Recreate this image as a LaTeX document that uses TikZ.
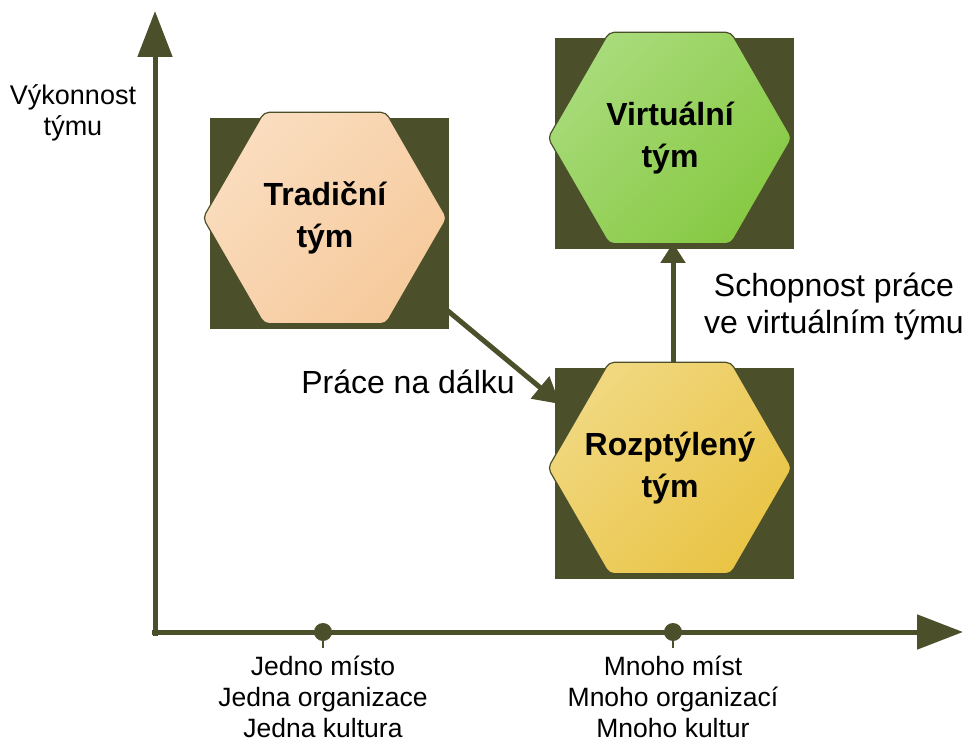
\documentclass[tikz,border=0pt]{standalone}
\usepackage{fontspec}
\setmainfont{Liberation Sans}
\usetikzlibrary{shapes.geometric,arrows.meta,calc}
\definecolor{darkol}{HTML}{4B4F2A}
\definecolor{tradA}{HTML}{FADDBF}
\definecolor{tradB}{HTML}{F6CA9C}
\definecolor{virtA}{HTML}{A8DB7A}
\definecolor{virtB}{HTML}{87C943}
\definecolor{rozA}{HTML}{F1D880}
\definecolor{rozB}{HTML}{E9C445}
\begin{document}
\begin{tikzpicture}[x=1pt,y=-1pt,
  hexa/.style={regular polygon, regular polygon sides=6, minimum size=244pt,
    inner sep=0pt, draw=darkol, line width=1.2pt, rounded corners=5pt},
  hexlabel/.style={font=\fontsize{32}{42}\selectfont\bfseries, align=center, inner sep=0pt},
  backrect/.style={fill=darkol},
  axisarrow/.style={draw=darkol, line width=5pt, -{Triangle[length=46pt,width=34pt]}},
  conn/.style={draw=darkol, line width=5pt, -{Triangle[length=26pt,width=28pt]}},
  vconn/.style={draw=darkol, line width=5pt, -{Triangle[length=20pt,width=24pt]}},
  dotn/.style={circle, fill=darkol, minimum size=18pt, inner sep=0pt},
  lab/.style={align=center, inner sep=0pt},
  bigfont/.style={font=\fontsize{32}{37}\selectfont},
  midfont/.style={font=\fontsize{26.5}{31}\selectfont}]
\useasboundingbox (0,0) rectangle (964,743);

% centres
\coordinate (ct) at (325,218);
\coordinate (cv) at (670,138);
\coordinate (cr) at (670,468);

% dark backing rectangles
\fill[backrect] ($(ct)+(-115,-100)$) rectangle ($(ct)+(124,111)$);
\fill[backrect] ($(cv)+(-115,-100)$) rectangle ($(cv)+(124,111)$);
\fill[backrect] ($(cr)+(-115,-100)$) rectangle ($(cr)+(124,111)$);

% axes
\coordinate (o) at (155,632);
\coordinate (ytip) at (155,11);
\coordinate (xtip) at (963,632);
\draw[axisarrow] ($(o)+(0,4)$) -- (ytip);
\draw[axisarrow] ($(o)+(-3,0)$) -- (xtip);

% dots on x axis
\node[dotn] (d1) at (323,632) {};
\node[dotn] (d2) at (673,632) {};
\draw[darkol, line width=2pt] (d1.south) -- ++(0,7);
\draw[darkol, line width=2pt] (d2.south) -- ++(0,7);

% connectors
\draw[conn] ($(ct)+(117,88)$) -- ($(cr)+(-110,-64)$);
\draw[vconn] ($(cr)+(3,-104)$) -- ($(cv)+(3,105)$);

% hexagons
\node[hexa, top color=tradA, bottom color=tradB, shading angle=45] (t) at (ct) {};
\node[hexa, top color=virtA, bottom color=virtB, shading angle=45] (v) at (cv) {};
\node[hexa, top color=rozA, bottom color=rozB, shading angle=45] (r) at (cr) {};
\node[hexlabel] (tl) at (t.center) {Tradiční\\tým};
\node[hexlabel] (vl) at (v.center) {Virtuální\\tým};
\node[hexlabel] (rl) at (r.center) {Rozptýlený\\tým};

% labels
\node[lab, font=\fontsize{27}{31}\selectfont] (yl) at (73,113) {Výkonnost\\týmu};
\node[lab, bigfont] (sl) at (834,307) {Schopnost práce\\ve virtuálním týmu};
\node[lab, font=\fontsize{32}{37}\selectfont] (pl) at (408,382) {Práce na dálku};
\node[lab, midfont] (b1) at (323,697) {Jedno místo\\Jedna organizace\\Jedna kultura};
\node[lab, midfont] (b2) at (673,697) {Mnoho míst\\Mnoho organizací\\Mnoho kultur};
\end{tikzpicture}
\end{document}
